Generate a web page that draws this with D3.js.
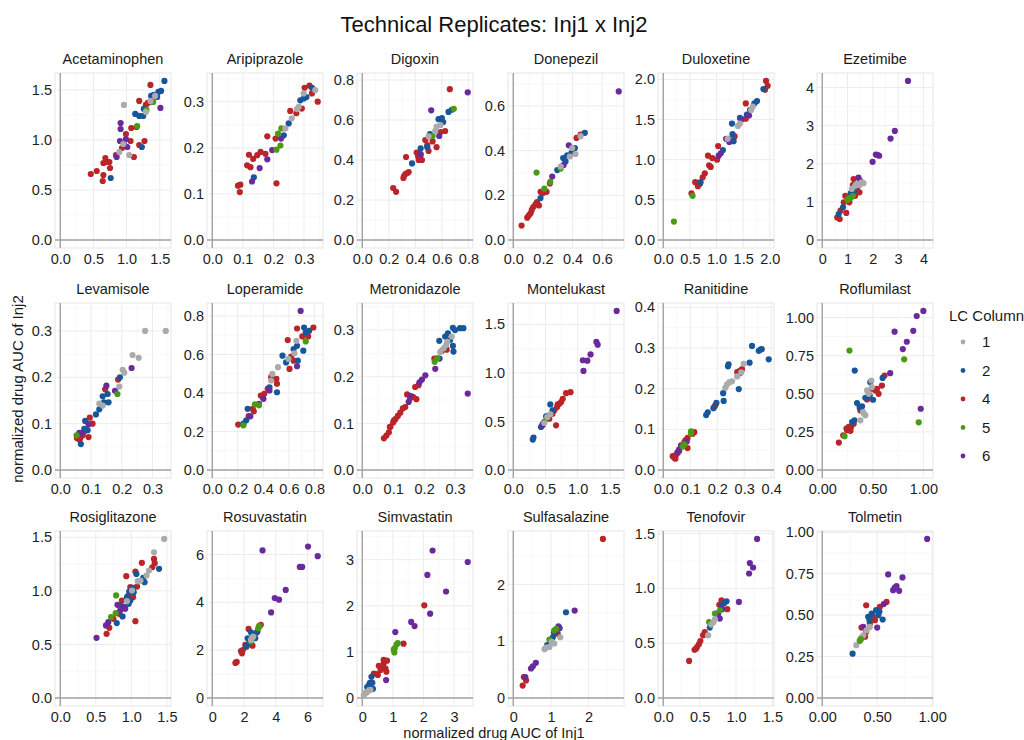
<!DOCTYPE html>
<html>
<head>
<meta charset="utf-8">
<script src="https://cdn.jsdelivr.net/npm/d3@7"></script>
<style>
  body { margin: 0; background: #fff; }
  text { font-family: "Liberation Sans", Arial, Helvetica, sans-serif; }
</style>
</head>
<body>
<svg id="chart" width="1024" height="740"></svg>
<script>
// facets, in display order
const drugs = ["Acetaminophen", "Aripiprazole", "Digoxin", "Donepezil", "Duloxetine", "Ezetimibe",
  "Levamisole", "Loperamide", "Metronidazole", "Montelukast", "Ranitidine", "Roflumilast",
  "Rosiglitazone", "Rosuvastatin", "Simvastatin", "Sulfasalazine", "Tenofovir", "Tolmetin"];

const lcColumns = ["1", "2", "4", "5", "6"];
const lcColors = ["#ABABAB", "#16579B", "#BA2529", "#4B9A14", "#6A2A9C"];

// each point: [AUC Inj1, AUC Inj2, LC column]
const acetaminophen = [
  [0.46,0.66,"4"],[0.55,0.69,"4"],[0.65,0.65,"4"],[0.64,0.59,"4"],[0.68,0.82,"4"],[0.65,0.77,"4"],[0.71,0.78,"4"],
  [0.75,0.72,"4"],[0.74,0.78,"4"],[0.84,0.85,"4"],[0.93,0.92,"4"],[0.99,1.06,"4"],[1.06,0.99,"4"],[1.07,1.12,"4"],
  [1.11,0.83,"4"],[1.19,1.39,"4"],[1.19,0.95,"4"],[1.27,0.99,"4"],[1.36,1.55,"4"],[1.32,1.37,"4"],[1.29,1.35,"4"],[1.15,1.13,"4"],
  [0.76,0.62,"2"],[1.23,0.93,"2"],[1.13,1.26,"2"],[1.19,1.24,"2"],[1.25,1.24,"2"],[1.26,1.31,"2"],[1.37,1.44,"2"],
  [1.41,1.45,"2"],[1.48,1.48,"2"],[1.52,1.49,"2"],[1.46,1.43,"2"],[1.57,1.59,"2"],[1.39,1.38,"2"],
  [0.91,1.17,"6"],[0.91,1.11,"6"],[0.90,0.99,"6"],[0.85,0.83,"6"],[0.99,1.01,"6"],[1.01,0.93,"6"],[1.51,1.32,"6"],[0.96,0.96,"6"],
  [1.30,1.30,"5"],[1.16,1.14,"5"],[1.40,1.38,"5"],
  [0.96,1.35,"1"],[1.04,0.85,"1"],[0.95,0.96,"1"],[0.89,0.88,"1"],[1.29,1.28,"1"],[1.43,1.44,"1"],[1.36,1.39,"1"]
];
const aripiprazole = [
  [0.084,0.118,"4"],[0.092,0.12,"4"],[0.09,0.104,"4"],[0.114,0.162,"4"],[0.125,0.158,"4"],[0.12,0.185,"4"],[0.134,0.176,"4"],
  [0.147,0.184,"4"],[0.158,0.191,"4"],[0.174,0.187,"4"],[0.18,0.225,"4"],[0.207,0.22,"4"],[0.21,0.123,"4"],[0.255,0.28,"4"],
  [0.275,0.275,"4"],[0.302,0.33,"4"],[0.318,0.335,"4"],[0.345,0.30,"4"],[0.326,0.318,"4"],[0.293,0.285,"4"],
  [0.136,0.136,"2"],[0.25,0.253,"2"],[0.234,0.227,"2"],[0.288,0.303,"2"],[0.299,0.307,"2"],[0.326,0.33,"2"],[0.308,0.31,"2"],
  [0.13,0.127,"6"],[0.155,0.156,"6"],[0.196,0.195,"6"],[0.225,0.22,"6"],[0.18,0.175,"6"],
  [0.215,0.231,"5"],[0.226,0.242,"5"],[0.223,0.205,"5"],[0.21,0.196,"5"],
  [0.26,0.264,"1"],[0.283,0.289,"1"],[0.299,0.318,"1"],[0.337,0.325,"1"],[0.239,0.242,"1"],[0.277,0.284,"1"]
];
const digoxin = [
  [0.233,0.26,"4"],[0.255,0.241,"4"],[0.31,0.31,"4"],[0.325,0.33,"4"],[0.35,0.34,"4"],[0.33,0.415,"4"],[0.41,0.437,"4"],
  [0.425,0.40,"4"],[0.45,0.40,"4"],[0.475,0.50,"4"],[0.50,0.445,"4"],[0.56,0.464,"4"],[0.59,0.54,"4"],[0.625,0.545,"4"],
  [0.66,0.754,"4"],[0.53,0.493,"4"],[0.49,0.474,"4"],[0.315,0.32,"4"],[0.34,0.335,"4"],[0.42,0.42,"4"],[0.44,0.425,"4"],
  [0.375,0.383,"2"],[0.44,0.458,"2"],[0.51,0.529,"2"],[0.575,0.604,"2"],[0.61,0.59,"2"],[0.65,0.64,"2"],[0.675,0.651,"2"],
  [0.49,0.464,"2"],[0.60,0.61,"2"],
  [0.795,0.738,"6"],[0.52,0.648,"6"],[0.58,0.52,"6"],[0.44,0.43,"6"],
  [0.69,0.656,"5"],[0.53,0.52,"5"],
  [0.55,0.545,"1"],[0.56,0.567,"1"],[0.50,0.518,"1"],[0.59,0.575,"1"]
];
const donepezil = [
  [0.056,0.065,"4"],[0.094,0.10,"4"],[0.117,0.12,"4"],[0.135,0.148,"4"],[0.16,0.17,"4"],[0.173,0.155,"4"],[0.184,0.216,"4"],
  [0.225,0.216,"4"],[0.247,0.253,"4"],[0.427,0.457,"4"],[0.454,0.472,"4"],[0.105,0.11,"4"],[0.125,0.135,"4"],[0.15,0.16,"4"],[0.2,0.21,"4"],
  [0.184,0.188,"2"],[0.297,0.313,"2"],[0.337,0.367,"2"],[0.364,0.379,"2"],[0.393,0.39,"2"],[0.416,0.412,"2"],[0.483,0.48,"2"],[0.353,0.352,"2"],
  [0.712,0.665,"6"],[0.375,0.424,"6"],[0.34,0.336,"6"],[0.263,0.284,"6"],
  [0.157,0.302,"5"],[0.21,0.23,"5"],[0.25,0.26,"5"],[0.32,0.32,"5"],
  [0.382,0.374,"1"],[0.42,0.385,"1"],[0.454,0.465,"1"],[0.32,0.329,"1"],[0.398,0.412,"1"]
];
const duloxetine = [
  [0.53,0.58,"4"],[0.6,0.72,"4"],[0.65,0.67,"4"],[0.69,0.70,"4"],[0.74,0.78,"4"],[0.78,0.83,"4"],[0.86,0.93,"4"],[0.89,0.91,"4"],
  [0.84,1.05,"4"],[0.92,1.02,"4"],[1.03,1.17,"4"],[1.01,1.0,"4"],[1.55,1.70,"4"],[1.55,1.51,"4"],[1.34,1.29,"4"],[1.93,1.98,"4"],
  [1.96,1.92,"4"],[1.91,1.87,"4"],
  [1.12,1.12,"2"],[1.23,1.26,"2"],[1.30,1.32,"2"],[1.32,1.23,"2"],[1.29,1.45,"2"],[1.44,1.52,"2"],[1.57,1.56,"2"],[1.63,1.62,"2"],
  [1.71,1.70,"2"],[1.76,1.73,"2"],[1.88,1.88,"2"],[0.7,0.72,"2"],
  [1.04,1.05,"6"],[1.08,1.08,"6"],[1.18,1.26,"6"],[1.24,1.22,"6"],[1.47,1.50,"6"],[1.61,1.55,"6"],
  [0.2,0.23,"5"],[0.55,0.55,"5"],
  [1.40,1.42,"1"],[1.44,1.45,"1"],[1.65,1.62,"1"],[1.68,1.66,"1"],[1.21,1.26,"1"]
];
const ezetimibe = [
  [0.59,0.59,"4"],[0.69,0.55,"4"],[0.72,0.77,"4"],[0.85,0.99,"4"],[0.91,1.16,"4"],[0.95,0.71,"4"],[1.07,0.99,"4"],[1.21,1.44,"4"],
  [1.24,1.6,"4"],[1.37,1.34,"4"],[1.47,1.25,"4"],[1.30,1.16,"4"],[1.11,1.16,"4"],
  [0.65,0.68,"2"],[0.82,0.86,"2"],[1.24,1.25,"2"],[1.43,1.42,"2"],[1.13,1.23,"2"],
  [3.39,4.17,"6"],[2.87,2.86,"6"],[2.70,2.66,"6"],[1.99,2.05,"6"],[2.12,2.24,"6"],[2.25,2.21,"6"],[2.18,2.23,"6"],[1.43,1.64,"6"],[1.50,1.55,"6"],
  [1.04,1.09,"5"],[1.13,1.11,"5"],[1.21,1.16,"5"],[1.0,1.05,"5"],
  [1.17,1.34,"1"],[1.37,1.47,"1"],[1.56,1.51,"1"],[1.63,1.49,"1"],[1.47,1.44,"1"],[1.30,1.42,"1"]
];
const levamisole = [
  [0.188,0.195,"4"],[0.146,0.174,"4"],[0.096,0.113,"4"],[0.105,0.10,"4"],[0.092,0.071,"4"],[0.062,0.066,"4"],[0.054,0.069,"4"],
  [0.073,0.075,"4"],[0.078,0.083,"4"],[0.065,0.068,"4"],
  [0.194,0.20,"2"],[0.154,0.164,"2"],[0.138,0.159,"2"],[0.142,0.146,"2"],[0.157,0.146,"2"],[0.116,0.12,"2"],[0.127,0.131,"2"],
  [0.081,0.106,"2"],[0.078,0.089,"2"],[0.067,0.056,"2"],[0.089,0.086,"2"],
  [0.232,0.22,"6"],[0.15,0.182,"6"],[0.178,0.171,"6"],[0.092,0.099,"6"],[0.07,0.079,"6"],[0.062,0.08,"6"],
  [0.186,0.164,"5"],[0.053,0.075,"5"],
  [0.276,0.30,"1"],[0.343,0.30,"1"],[0.235,0.248,"1"],[0.255,0.242,"1"],[0.203,0.216,"1"],[0.208,0.21,"1"],[0.192,0.18,"1"],
  [0.127,0.143,"1"],[0.138,0.139,"1"]
];
const loperamide = [
  [0.203,0.236,"4"],[0.285,0.28,"4"],[0.325,0.305,"4"],[0.317,0.318,"4"],[0.38,0.387,"4"],[0.407,0.396,"4"],[0.434,0.422,"4"],
  [0.461,0.482,"4"],[0.502,0.473,"4"],[0.507,0.448,"4"],[0.591,0.675,"4"],[0.605,0.525,"4"],[0.618,0.589,"4"],[0.637,0.568,"4"],
  [0.664,0.735,"4"],[0.705,0.694,"4"],[0.751,0.694,"4"],[0.792,0.74,"4"],[0.393,0.379,"4"],
  [0.277,0.318,"2"],[0.266,0.258,"2"],[0.244,0.241,"2"],[0.448,0.43,"2"],[0.507,0.404,"2"],[0.55,0.594,"2"],[0.578,0.559,"2"],
  [0.637,0.628,"2"],[0.664,0.645,"2"],[0.67,0.568,"2"],[0.713,0.62,"2"],[0.719,0.74,"2"],[0.759,0.723,"2"],[0.732,0.714,"2"],
  [0.692,0.826,"6"],[0.664,0.539,"6"],[0.448,0.413,"6"],[0.401,0.37,"6"],[0.298,0.279,"6"],[0.366,0.344,"6"],
  [0.244,0.232,"5"],[0.334,0.341,"5"],[0.366,0.336,"5"],[0.732,0.668,"5"],
  [0.47,0.499,"1"],[0.515,0.534,"1"],[0.597,0.577,"1"],[0.643,0.606,"1"],[0.659,0.671,"1"],[0.461,0.465,"1"]
];
const metronidazole = [
  [0.07,0.068,"4"],[0.078,0.074,"4"],[0.086,0.081,"4"],[0.091,0.093,"4"],[0.10,0.102,"4"],[0.107,0.109,"4"],[0.115,0.116,"4"],
  [0.123,0.123,"4"],[0.131,0.132,"4"],[0.139,0.135,"4"],[0.145,0.162,"4"],[0.155,0.154,"4"],[0.164,0.157,"4"],[0.175,0.152,"4"],
  [0.171,0.178,"4"],[0.182,0.182,"4"],[0.089,0.092,"4"],[0.102,0.106,"4"],[0.233,0.239,"4"],[0.273,0.258,"4"],[0.257,0.255,"4"],
  [0.249,0.277,"2"],[0.25,0.239,"2"],[0.277,0.293,"2"],[0.293,0.305,"2"],[0.30,0.30,"2"],[0.316,0.304,"2"],[0.327,0.304,"2"],
  [0.295,0.254,"2"],[0.293,0.266,"2"],[0.284,0.279,"2"],[0.268,0.286,"2"],
  [0.341,0.164,"6"],[0.15,0.146,"6"],[0.155,0.159,"6"],[0.185,0.188,"6"],[0.193,0.194,"6"],[0.204,0.203,"6"],[0.236,0.217,"6"],
  [0.234,0.232,"5"],[0.243,0.24,"5"],
  [0.252,0.253,"1"],[0.263,0.261,"1"],[0.271,0.268,"1"],[0.275,0.275,"1"],[0.289,0.286,"1"]
];
const montelukast = [
  [0.664,0.46,"4"],[0.638,0.614,"4"],[0.68,0.648,"4"],[0.716,0.682,"4"],[0.768,0.733,"4"],[0.82,0.791,"4"],[0.889,0.801,"4"],
  [0.69,0.675,"4"],[0.742,0.699,"4"],[0.61,0.58,"4"],[0.56,0.528,"4"],
  [0.314,0.334,"2"],[0.303,0.314,"2"],[0.43,0.443,"2"],[0.48,0.494,"2"],[0.575,0.675,"2"],[0.51,0.552,"2"],[0.56,0.563,"2"],
  [0.455,0.47,"2"],[0.61,0.614,"2"],
  [1.605,1.637,"6"],[1.29,1.32,"6"],[1.31,1.29,"6"],[1.20,1.19,"6"],[1.15,1.125,"6"],[1.08,1.13,"6"],[1.09,1.02,"6"],[0.455,0.46,"6"],
  [0.52,0.539,"5"],
  [0.48,0.484,"1"],[0.53,0.546,"1"],[0.575,0.573,"1"]
];
const ranitidine = [
  [0.292,0.248,"4"],[0.274,0.241,"4"],[0.284,0.244,"4"],[0.19,0.156,"4"],[0.193,0.159,"4"],[0.041,0.03,"4"],[0.035,0.034,"4"],
  [0.047,0.037,"4"],[0.053,0.042,"4"],[0.059,0.047,"4"],[0.078,0.068,"4"],[0.09,0.079,"4"],[0.109,0.089,"4"],[0.115,0.093,"4"],
  [0.09,0.054,"4"],[0.082,0.073,"4"],[0.045,0.028,"4"],
  [0.329,0.305,"2"],[0.354,0.293,"2"],[0.36,0.296,"2"],[0.365,0.297,"2"],[0.391,0.272,"2"],[0.32,0.264,"2"],[0.284,0.238,"2"],
  [0.28,0.199,"2"],[0.222,0.189,"2"],[0.224,0.17,"2"],[0.197,0.165,"2"],[0.159,0.135,"2"],[0.165,0.142,"2"],[0.186,0.152,"2"],
  [0.242,0.26,"2"],[0.24,0.255,"2"],
  [0.059,0.051,"6"],[0.066,0.061,"6"],[0.087,0.07,"6"],[0.053,0.044,"6"],
  [0.072,0.058,"5"],[0.078,0.063,"5"],[0.103,0.089,"5"],[0.103,0.095,"5"],
  [0.298,0.261,"1"],[0.274,0.23,"1"],[0.255,0.218,"1"],[0.236,0.21,"1"],[0.245,0.216,"1"],[0.23,0.202,"1"],[0.289,0.24,"1"]
];
const roflumilast = [
  [0.164,0.18,"4"],[0.207,0.228,"4"],[0.239,0.272,"4"],[0.262,0.283,"4"],[0.285,0.283,"4"],[0.311,0.304,"4"],[0.377,0.391,"4"],
  [0.443,0.463,"4"],[0.492,0.533,"4"],[0.541,0.533,"4"],[0.557,0.5,"4"],[0.59,0.554,"4"],[0.616,0.62,"4"],[0.525,0.522,"4"],
  [0.246,0.261,"4"],[0.279,0.257,"4"],
  [0.321,0.652,"2"],[0.597,0.604,"2"],[0.475,0.576,"2"],[0.469,0.489,"2"],[0.502,0.461,"2"],[0.344,0.439,"2"],[0.393,0.417,"2"],
  [0.37,0.409,"2"],[0.318,0.326,"2"],[0.295,0.315,"2"],[0.426,0.474,"2"],
  [1.0,1.043,"6"],[0.934,1.01,"6"],[0.715,0.907,"6"],[0.90,0.913,"6"],[0.836,0.841,"6"],[0.797,0.793,"6"],[0.672,0.635,"6"],[0.974,0.402,"6"],
  [0.269,0.783,"5"],[0.81,0.726,"5"],[0.954,0.313,"5"],[0.22,0.222,"5"],
  [0.443,0.522,"1"],[0.485,0.587,"1"],[0.403,0.38,"1"],[0.377,0.326,"1"],[0.426,0.359,"1"],[0.41,0.37,"1"],[0.459,0.5,"1"],[0.49,0.543,"1"]
];
const rosiglitazone = [
  [0.652,0.599,"4"],[0.69,0.655,"4"],[0.748,0.739,"4"],[0.929,1.137,"4"],[1.057,0.717,"4"],[1.148,1.261,"4"],[1.057,1.18,"4"],
  [1.319,1.298,"4"],[1.329,1.258,"4"],[1.295,1.22,"4"],[1.024,0.941,"4"],[0.962,0.957,"4"],[0.867,0.91,"4"],[0.986,1.034,"4"],
  [1.081,1.04,"4"],[0.829,0.786,"4"],
  [0.795,0.699,"2"],[0.876,0.761,"2"],[0.905,0.848,"2"],[0.962,0.879,"2"],[0.971,0.994,"2"],[1.024,1.028,"2"],[1.033,0.988,"2"],
  [1.071,1.158,"2"],[1.167,1.121,"2"],[1.186,1.081,"2"],[1.39,1.205,"2"],[0.938,0.941,"2"],[0.986,0.91,"2"],[0.852,0.863,"2"],
  [0.51,0.562,"6"],[0.643,0.677,"6"],[0.676,0.708,"6"],[0.805,0.87,"6"],[0.89,0.848,"6"],[0.843,0.817,"6"],[0.914,0.832,"6"],
  [0.786,0.957,"5"],[0.714,0.755,"5"],[0.78,0.792,"5"],
  [1.462,1.484,"1"],[1.319,1.36,"1"],[1.214,1.143,"1"],[1.09,1.09,"1"],[0.938,0.904,"1"],[1.01,1.003,"1"],[1.129,1.096,"1"],[1.248,1.189,"1"]
];
const rosuvastatin = [
  [1.46,1.47,"4"],[1.54,1.51,"4"],[1.875,1.87,"4"],[1.81,1.96,"4"],[1.92,2.0,"4"],[2.08,2.22,"4"],[2.29,2.89,"4"],[2.54,2.19,"4"],
  [2.79,2.73,"4"],[2.96,2.99,"4"],[3.06,3.06,"4"],[2.17,2.15,"4"],
  [2.125,2.15,"2"],[2.23,2.5,"2"],[2.44,2.75,"2"],[2.71,2.5,"2"],[2.85,2.78,"2"],[2.33,2.29,"2"],[2.54,2.64,"2"],
  [3.17,6.17,"6"],[6.04,6.33,"6"],[6.65,5.93,"6"],[5.52,5.48,"6"],[5.67,5.48,"6"],[4.63,4.52,"6"],[3.94,4.18,"6"],[4.21,4.11,"6"],[3.71,3.58,"6"],
  [2.9,2.92,"5"],[2.44,2.36,"5"],[2.96,3.02,"5"],
  [2.5,2.5,"1"],[2.44,2.43,"1"],[2.58,2.57,"1"]
];
const simvastatin = [
  [2.03,2.01,"4"],[1.35,1.18,"4"],[0.81,0.81,"4"],[0.70,0.75,"4"],[0.65,0.68,"4"],[0.54,0.70,"4"],[0.47,0.52,"4"],[0.38,0.53,"4"],
  [0.60,0.61,"4"],[0.76,0.64,"4"],[0.79,0.57,"4"],[0.51,0.50,"4"],[0.70,0.83,"4"],
  [0.25,0.33,"2"],[0.3,0.46,"2"],[0.35,0.2,"2"],[0.16,0.24,"2"],[0.22,0.28,"2"],[0.33,0.33,"2"],
  [3.45,2.95,"6"],[2.3,3.2,"6"],[2.13,2.67,"6"],[2.74,2.31,"6"],[2.22,1.83,"6"],[1.6,1.65,"6"],[1.71,1.56,"6"],[1.08,1.43,"6"],[0.78,0.39,"6"],
  [1.05,0.99,"5"],[1.06,1.08,"5"],[1.12,1.16,"5"],[1.16,1.19,"5"],[1.03,1.05,"5"],
  [0.05,0.06,"1"],[0.11,0.11,"1"],[0.16,0.13,"1"],[0.22,0.17,"1"],[0.27,0.18,"1"],[0.08,0.1,"1"]
];
const sulfasalazine = [
  [2.38,2.80,"4"],[0.25,0.22,"4"],[0.28,0.37,"4"],[0.34,0.31,"4"],[1.08,1.16,"4"],[1.18,1.13,"4"],
  [1.4,1.51,"2"],[1.23,1.23,"2"],[1.09,1.14,"2"],[0.9,0.93,"2"],[0.99,0.99,"2"],[1.05,1.07,"2"],
  [1.63,1.54,"6"],[0.32,0.37,"6"],[0.47,0.52,"6"],[0.52,0.56,"6"],[0.6,0.62,"6"],[1.2,1.26,"6"],[1.14,1.19,"6"],
  [0.96,1.03,"5"],[1.09,1.19,"5"],[1.14,1.22,"5"],
  [0.83,0.86,"1"],[0.96,0.9,"1"],[1.02,0.99,"1"],[1.25,1.07,"1"],[1.09,0.96,"1"],[0.87,0.89,"1"]
];
const tenofovir = [
  [0.355,0.338,"4"],[0.43,0.44,"4"],[0.464,0.465,"4"],[0.49,0.49,"4"],[0.51,0.52,"4"],[0.547,0.572,"4"],[0.57,0.6,"4"],[0.80,0.89,"4"],
  [0.88,0.81,"4"],[0.77,0.85,"4"],[0.45,0.45,"4"],
  [0.87,0.882,"2"],[0.84,0.867,"2"],[0.754,0.764,"2"],[0.64,0.642,"2"],[0.80,0.84,"2"],
  [1.29,1.45,"6"],[1.19,1.23,"6"],[1.235,1.19,"6"],[1.18,1.135,"6"],[1.04,0.876,"6"],[0.777,0.724,"6"],[0.73,0.77,"6"],[0.81,0.81,"6"],
  [0.63,0.693,"5"],[0.71,0.77,"5"],[0.78,0.80,"5"],
  [0.616,0.572,"1"],[0.66,0.67,"1"],[0.71,0.72,"1"],[0.69,0.69,"1"]
];
const tolmetin = [
  [0.40,0.56,"4"],[0.585,0.58,"4"],[0.524,0.55,"4"],[0.357,0.425,"4"],[0.45,0.50,"4"],[0.48,0.47,"4"],[0.433,0.45,"4"],[0.40,0.40,"4"],
  [0.39,0.37,"4"],[0.46,0.49,"4"],
  [0.276,0.268,"2"],[0.418,0.49,"2"],[0.45,0.51,"2"],[0.49,0.53,"2"],[0.52,0.52,"2"],[0.55,0.474,"2"],[0.51,0.50,"2"],[0.43,0.47,"2"],
  [0.955,0.96,"6"],[0.60,0.746,"6"],[0.73,0.728,"6"],[0.66,0.667,"6"],[0.676,0.675,"6"],[0.70,0.647,"6"],[0.645,0.651,"6"],
  [0.50,0.425,"6"],[0.56,0.567,"6"],[0.373,0.43,"6"],
  [0.31,0.319,"1"],[0.342,0.349,"1"],[0.373,0.379,"1"],[0.403,0.409,"1"],[0.433,0.429,"1"],[0.357,0.365,"1"],
  [0.342,0.345,"5"],[0.352,0.355,"5"]
];

const panelData = [acetaminophen, aripiprazole, digoxin, donepezil, duloxetine, ezetimibe,
  levamisole, loperamide, metronidazole, montelukast, ranitidine, roflumilast,
  rosiglitazone, rosuvastatin, simvastatin, sulfasalazine, tenofovir, tolmetin];

// tick values per facet and the decimals of their labels
const xTicks = [
  [0, 0.5, 1, 1.5], [0, 0.1, 0.2, 0.3], [0, 0.2, 0.4, 0.6, 0.8], [0, 0.2, 0.4, 0.6], [0, 0.5, 1, 1.5, 2], [0, 1, 2, 3, 4],
  [0, 0.1, 0.2, 0.3], [0, 0.2, 0.4, 0.6, 0.8], [0, 0.1, 0.2, 0.3], [0, 0.5, 1, 1.5], [0, 0.1, 0.2, 0.3, 0.4], [0, 0.5, 1],
  [0, 0.5, 1, 1.5], [0, 2, 4, 6], [0, 1, 2, 3], [0, 1, 2], [0, 0.5, 1, 1.5], [0, 0.5, 1]
];
const yTicks = [
  [0, 0.5, 1, 1.5], [0, 0.1, 0.2, 0.3], [0, 0.2, 0.4, 0.6, 0.8], [0, 0.2, 0.4, 0.6], [0, 0.5, 1, 1.5, 2], [0, 1, 2, 3, 4],
  [0, 0.1, 0.2, 0.3], [0, 0.2, 0.4, 0.6, 0.8], [0, 0.1, 0.2, 0.3], [0, 0.5, 1, 1.5], [0, 0.1, 0.2, 0.3, 0.4], [0, 0.25, 0.5, 0.75, 1],
  [0, 0.5, 1, 1.5], [0, 2, 4, 6], [0, 1, 2, 3], [0, 1, 2], [0, 0.5, 1, 1.5], [0, 0.25, 0.5, 0.75, 1]
];
const tickDigits = [1, 1, 1, 1, 1, 0, 1, 1, 1, 1, 1, 2, 1, 0, 0, 0, 1, 2];

const svg = d3.select("#chart");
const colLeft = [55, 207, 357, 508, 658, 817];
const rowTop = [73, 303, 531];
const panelW = 116, panelH = 175;

const color = d3.scaleOrdinal().domain(lcColumns).range(lcColors);

function minorOf(ticks, dom) {
  const step = ticks[1] - ticks[0];
  const out = [ticks[0] - step / 2].concat(ticks.map(t => t + step / 2));
  return out.filter(v => v > dom[0] && v < dom[1]);
}

drugs.forEach((name, i) => {
  const pts = panelData[i];
  const left = colLeft[i % 6], top = rowTop[Math.floor(i / 6)];
  // same limits on both axes, ggplot-like 5% expansion
  const m = d3.max(pts, d => Math.max(d[0], d[1]));
  const dom = [-0.05 * m, 1.05 * m];
  const x = d3.scaleLinear().domain(dom).range([0, panelW]);
  const y = d3.scaleLinear().domain(dom).range([panelH, 0]);
  const fmt = d3.format(`.${tickDigits[i]}f`);

  const g = svg.append("g").attr("transform", `translate(${left},${top})`);

  // grid
  g.append("g").selectAll("line").data(minorOf(xTicks[i], dom)).join("line")
    .attr("x1", d => x(d)).attr("x2", d => x(d)).attr("y1", 0).attr("y2", panelH)
    .attr("stroke", "#f4f4f4").attr("stroke-width", 0.6);
  g.append("g").selectAll("line").data(minorOf(yTicks[i], dom)).join("line")
    .attr("y1", d => y(d)).attr("y2", d => y(d)).attr("x1", 0).attr("x2", panelW)
    .attr("stroke", "#f4f4f4").attr("stroke-width", 0.6);
  g.append("g").selectAll("line").data(xTicks[i]).join("line")
    .attr("x1", d => x(d)).attr("x2", d => x(d)).attr("y1", 0).attr("y2", panelH)
    .attr("stroke", "#ececec").attr("stroke-width", 1);
  g.append("g").selectAll("line").data(yTicks[i]).join("line")
    .attr("y1", d => y(d)).attr("y2", d => y(d)).attr("x1", 0).attr("x2", panelW)
    .attr("stroke", "#ececec").attr("stroke-width", 1);

  g.append("rect").attr("x", 0).attr("y", 0).attr("width", panelW).attr("height", panelH)
    .attr("fill", "none").attr("stroke", "#e6e6e6").attr("stroke-width", 1);

  // zero lines
  g.append("line").attr("x1", 0).attr("x2", panelW).attr("y1", y(0)).attr("y2", y(0))
    .attr("stroke", "#a3a3a3").attr("stroke-width", 1.4);
  g.append("line").attr("x1", x(0)).attr("x2", x(0)).attr("y1", 0).attr("y2", panelH)
    .attr("stroke", "#a3a3a3").attr("stroke-width", 1.4);

  // axes
  const ax = g.append("g").attr("transform", `translate(0,${panelH})`)
    .call(d3.axisBottom(x).tickValues(xTicks[i]).tickFormat(fmt).tickSize(0).tickPadding(6));
  const ay = g.append("g")
    .call(d3.axisLeft(y).tickValues(yTicks[i]).tickFormat(fmt).tickSize(0).tickPadding(3));
  [ax, ay].forEach(a => {
    a.select(".domain").remove();
    a.attr("font-size", null).attr("font-family", null);
    a.selectAll("text").attr("font-size", "14.5px").attr("fill", "#1e1e1e");
  });

  // points
  g.append("g").selectAll("circle").data(pts).join("circle")
    .attr("cx", d => x(d[0])).attr("cy", d => y(d[1])).attr("r", 3.1)
    .attr("fill", d => color(d[2]));

  // strip title
  g.append("text").attr("x", panelW / 2).attr("y", -9).attr("text-anchor", "middle")
    .attr("font-size", "14.5px").attr("fill", "#1a1a1a").text(name);
});

// titles
svg.append("text").attr("x", 494).attr("y", 32).attr("text-anchor", "middle")
  .attr("font-size", "22px").attr("fill", "#111").text("Technical Replicates: Inj1 x Inj2");
svg.append("text").attr("x", 494).attr("y", 737.5).attr("text-anchor", "middle")
  .attr("font-size", "14.5px").attr("fill", "#1a1a1a").text("normalized drug AUC of Inj1");
svg.append("text").attr("transform", "translate(23,389) rotate(-90)").attr("text-anchor", "middle")
  .attr("font-size", "15px").attr("fill", "#1a1a1a").text("normalized drug AUC of Inj2");

// legend
const legend = svg.append("g").attr("transform", "translate(949,321)");
legend.append("text").attr("x", 0).attr("y", 0).attr("font-size", "15px").attr("fill", "#1a1a1a").text("LC Column");
const items = legend.selectAll("g.item").data(lcColumns).join("g")
  .attr("class", "item").attr("transform", (d, k) => `translate(0,${21 + k * 28.5})`);
items.append("circle").attr("cx", 14).attr("cy", 0).attr("r", 2.4).attr("fill", d => color(d));
items.append("text").attr("x", 33).attr("y", 0).attr("dy", "0.36em")
  .attr("font-size", "15px").attr("fill", "#1a1a1a").text(d => d);
</script>
</body>
</html>
